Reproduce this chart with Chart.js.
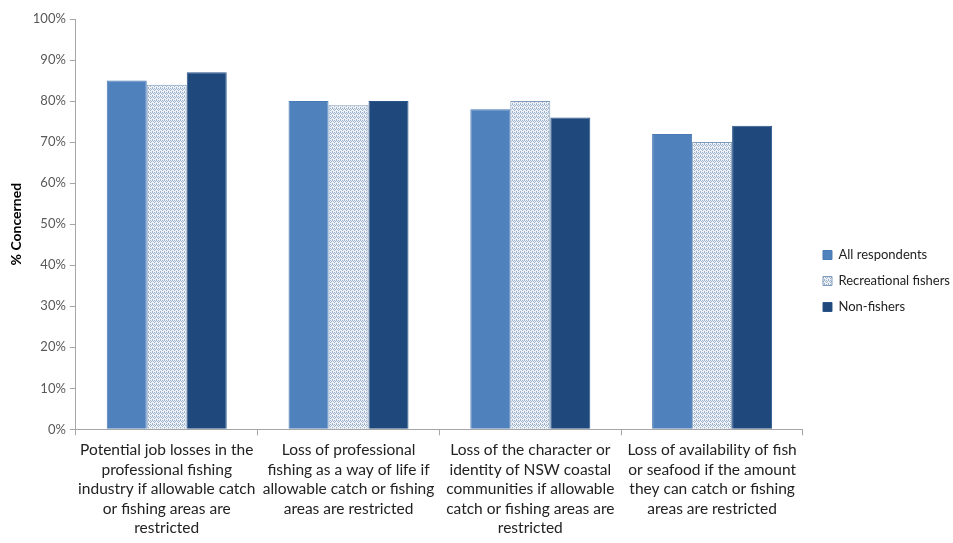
<!DOCTYPE html>
<html lang="en">
<head>
    <meta charset="UTF-8">
    <title>% Concerned</title>
    <script src="https://cdn.jsdelivr.net/npm/chart.js"></script>
    <style>
        body {
            margin: 0;
            background-color: #ffffff;
        }
        .chart-box {
            width: 953px;
            height: 543px;
        }
    </style>
</head>
<body>

<div class="chart-box">
    <canvas id="concernChart" width="953" height="543"></canvas>
</div>

<script>
    // Categories (wrapped the same way as in the original)
    const categories = [
        ['Potential job losses in the', 'professional fishing', 'industry if allowable catch', 'or fishing areas are', 'restricted'],
        ['Loss of professional', 'fishing as a way of life if', 'allowable catch or fishing', 'areas are restricted'],
        ['Loss of the character or', 'identity of NSW coastal', 'communities if allowable', 'catch or fishing areas are', 'restricted'],
        ['Loss of availability of fish', 'or seafood if the amount', 'they can catch or fishing', 'areas are restricted']
    ];

    // Series values (%)
    const allRespondents = [85, 80, 78, 72];
    const recreationalFishers = [84, 79, 80, 70];
    const nonFishers = [87, 80, 76, 74];

    const yTicks = [0, 10, 20, 30, 40, 50, 60, 70, 80, 90, 100];

    // Fine zigzag tile for the recreational fishers bars
    function makePattern() {
        const tile = document.createElement('canvas');
        tile.width = 4;
        tile.height = 4;
        const t = tile.getContext('2d');
        t.fillStyle = '#eef2f7';
        t.fillRect(0, 0, 4, 4);
        t.fillStyle = '#9db2cb';
        [[0, 0], [1, 1], [2, 2], [3, 1], [2, 0], [0, 3]].forEach(p => t.fillRect(p[0], p[1], 1, 1));
        return t.createPattern(tile, 'repeat');
    }

    // Nudge the legend items a little to the right of the plot, like the original
    const legendShift = {
        id: 'legendShift',
        afterLayout(chart) {
            chart.legend.left += 7;
            chart.legend.right += 7;
        }
    };

    const ctx = document.getElementById('concernChart').getContext('2d');
    const hatch = makePattern();

    new Chart(ctx, {
        type: 'bar',
        data: {
            labels: categories,
            datasets: [
                {
                    label: 'All respondents',
                    data: allRespondents,
                    backgroundColor: '#4f81bd',
                    borderColor: '#4a7ab3',
                    borderWidth: 1
                },
                {
                    label: 'Recreational fishers',
                    data: recreationalFishers,
                    backgroundColor: hatch,
                    borderColor: '#7f9bbb',
                    borderWidth: 1
                },
                {
                    label: 'Non-fishers',
                    data: nonFishers,
                    backgroundColor: '#1f497d',
                    borderColor: '#2a5588',
                    borderWidth: 1
                }
            ]
        },
        plugins: [legendShift],
        options: {
            responsive: false,
            animation: false,
            layout: {
                padding: { top: 19, left: 8, right: 0, bottom: 0 }
            },
            datasets: {
                bar: {
                    categoryPercentage: 0.66,
                    barPercentage: 1.0
                }
            },
            plugins: {
                tooltip: { enabled: false },
                legend: {
                    position: 'right',
                    labels: {
                        boxWidth: 9,
                        boxHeight: 9,
                        padding: 13,
                        color: '#222222',
                        font: { family: 'Lato, sans-serif', size: 13 }
                    }
                }
            },
            scales: {
                y: {
                    min: 0,
                    max: 100,
                    afterBuildTicks: axis => {
                        axis.ticks = yTicks.map(v => ({ value: v }));
                    },
                    border: { color: '#a6a6a6' },
                    grid: {
                        drawOnChartArea: false,
                        color: '#a6a6a6',
                        tickLength: 6
                    },
                    ticks: {
                        color: '#595959',
                        padding: 4,
                        font: { family: 'Lato, sans-serif', size: 13 },
                        callback: v => v + '%'
                    },
                    title: {
                        display: true,
                        text: '% Concerned',
                        color: '#000000',
                        padding: { top: 0, bottom: 4 },
                        font: { family: 'Lato, sans-serif', size: 14, weight: 'bold' }
                    }
                },
                x: {
                    border: { color: '#a6a6a6' },
                    grid: {
                        offset: true,
                        drawOnChartArea: false,
                        color: '#a6a6a6',
                        tickLength: 6
                    },
                    ticks: {
                        color: '#222222',
                        maxRotation: 0,
                        autoSkip: false,
                        padding: 5,
                        font: { family: 'Lato, sans-serif', size: 15.5, lineHeight: 1.26 }
                    }
                }
            }
        }
    });
</script>

</body>
</html>
